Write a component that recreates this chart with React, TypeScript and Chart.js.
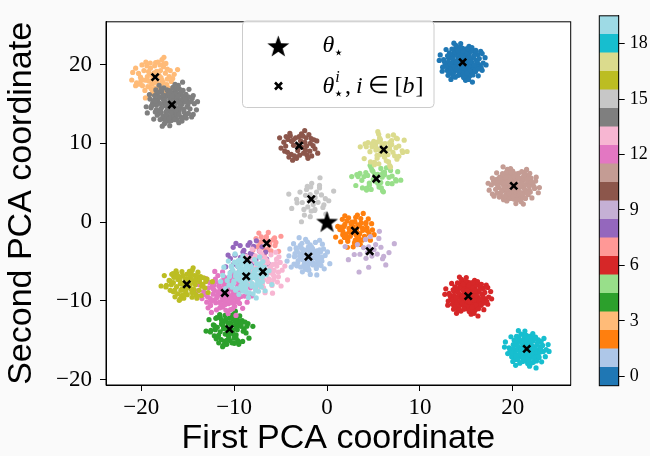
import React, { useEffect, useRef } from 'react';
import { Chart, registerables } from 'chart.js';
Chart.register(...registerables);

// tab20 colours, one per cluster index 0..19
const clusterColors = [
  '#1f77b4', '#aec7e8', '#ff7f0e', '#ffbb78', '#2ca02c', '#98df8a', '#d62728', '#ff9896',
  '#9467bd', '#c5b0d5', '#8c564b', '#c49c94', '#e377c2', '#f7b6d2', '#7f7f7f', '#c7c7c7',
  '#bcbd22', '#dbdb8d', '#17becf', '#9edae5',
];
// cluster centres (theta_star^i)
const centerX = [14.6, -2.0, 3.0, -18.5, -10.5, 5.3, 15.2, -6.5, -8.6, 4.6, -3.0, 20.1, -11.0, -6.9, -16.7, -1.7, -15.1, 6.1, 21.5, -8.7];
const centerY = [20.3, -4.4, -1.1, 18.4, -13.6, 5.5, -9.4, -2.7, -4.8, -3.7, 9.7, 4.6, -9.0, -6.3, 14.9, 2.9, -7.9, 9.2, -16.1, -6.9];
// estimated spread and number of points of each cluster
const spreadX = [1.05, 1.0, 0.9, 1.05, 1.05, 1.1, 1.05, 0.95, 1.0, 1.15, 1.0, 1.15, 1.2, 1.15, 1.15, 1.05, 1.15, 1.05, 1.0, 1.2];
const spreadY = [1.15, 1.1, 1.0, 1.2, 1.2, 0.9, 1.15, 1.0, 1.1, 1.2, 1.0, 1.1, 1.3, 1.3, 1.3, 1.3, 1.1, 1.2, 1.1, 1.3];
const counts = [140, 80, 60, 70, 80, 45, 140, 25, 45, 25, 45, 140, 100, 80, 140, 35, 80, 60, 120, 100];
// hand-typed blob offsets (in spread units)
const offsetsA = [
  [0.12, -0.35], [-0.58, 0.21], [0.84, 0.47], [-1.12, -0.66], [0.33, 1.05], [-0.27, -1.18], [1.41, -0.22], [-1.55, 0.38], [0.05, 0.02], [0.67, -0.91],
  [-0.81, 0.95], [1.02, 0.88], [-0.44, -0.52], [0.29, -0.08], [-0.15, 0.63], [1.78, 0.31], [-1.9, -0.12], [0.51, 1.62], [-0.62, -1.7], [0.95, -1.35],
  [-1.28, 1.22], [0.18, 0.41], [-0.36, 0.07], [0.72, 0.14], [-0.95, -0.28], [0.41, -0.55], [-0.08, -0.79], [1.2, 0.6], [-1.36, -1.02], [0.6, 0.82],
  [-0.7, 0.45], [0.26, -1.45], [-0.19, 1.38], [1.55, -0.85], [-1.62, 0.9], [0.88, 1.3], [-0.5, -0.95], [0.02, 0.85], [1.1, -0.45], [-1.05, 0.12],
  [0.45, 0.28], [-0.3, -0.3], [0.78, -0.2], [-0.9, 0.68], [0.15, -1.02], [-0.12, 0.3], [1.32, 1.02], [-1.45, -0.5], [0.65, -1.75], [-0.75, 1.65],
  [2.1, 0.1], [-2.05, 0.55], [0.3, 2.0], [-0.2, -2.05], [1.6, 1.5], [-1.7, -1.4], [1.85, -1.2], [-1.2, 1.9], [0.55, 0.6], [-0.45, 0.9],
  [0.95, 0.05], [-0.65, -0.1], [0.2, -0.6], [-1.0, -0.75], [1.25, -1.05], [-0.35, 1.1], [0.7, 1.55], [-1.3, 0.55], [0.4, -1.25], [-0.85, -1.35],
  [1.45, 0.35], [-1.8, 0.15], [0.1, 1.7], [-0.05, -1.55], [2.3, -0.5], [-2.3, -0.8], [1.0, 2.2], [-0.9, -2.1], [2.0, 0.9], [-1.5, 1.45],
];
const offsetsB = [
  [0.22, 0.15], [-0.4, -0.18], [0.58, -0.38], [-0.7, 0.3], [0.1, -0.45], [-0.2, 0.52], [0.92, 0.32], [-1.05, -0.42], [0.35, 0.75], [-0.55, -0.7],
  [1.15, -0.7], [-1.2, 0.8], [0.75, 1.0], [-0.85, -1.1], [0.0, 1.15], [0.05, -1.2], [1.5, 0.0], [-1.45, -0.05], [0.48, -0.95], [-0.38, 1.0],
  [1.3, 0.9], [-1.25, -0.85], [0.85, -1.2], [-0.95, 1.25], [1.7, -0.4], [-1.65, 0.45], [0.25, 1.5], [-0.28, -1.6], [1.05, 1.4], [-1.1, -1.45],
  [0.62, 0.42], [-0.6, 0.05], [0.3, -0.2], [-0.05, -0.1], [0.8, -0.05], [-0.82, 0.55], [0.42, 1.22], [-0.5, -1.3], [1.35, -1.3], [-1.4, 1.15],
  [1.9, 0.6], [-1.95, -0.3], [0.6, 1.9], [-0.7, -1.85], [2.0, -0.95], [-2.1, 1.0], [0.15, 0.62], [-0.15, -0.62], [0.68, -0.6], [-0.62, 0.75],
  [1.6, 0.75], [-1.55, -0.7], [0.95, -1.6], [-1.0, 1.55], [1.2, 0.3], [-1.25, 0.2], [0.5, -1.5], [-0.45, 1.45], [2.4, 0.3], [-2.4, -0.2],
];
// theta_star
const starX = [0];
const starY = [0];
// tick labels
const xTicks = [-20, -10, 0, 10, 20];
const yTicks = [-20, -10, 0, 10, 20];
const cbTicks = [0, 3, 6, 9, 12, 15, 18];
const xLabel = 'First PCA coordinate';
const yLabel = 'Second PCA coordinate';

const allOffsets = [...offsetsA, ...offsetsB];

function clusterPoints(i: number) {
  const pts: { x: number; y: number }[] = [];
  const n = counts[i];
  const start = (i * 23) % allOffsets.length;
  const fx = i % 2 === 0 ? 1 : -1;
  const fy = i % 3 === 0 ? -1 : 1;
  for (let k = 0; k < n; k++) {
    const o = allOffsets[(start + k) % allOffsets.length];
    pts.push({ x: centerX[i] + fx * o[0] * spreadX[i], y: centerY[i] + fy * o[1] * spreadY[i] });
  }
  return pts;
}

function makeStar(R: number) {
  const size = Math.ceil(R * 2 + 2);
  const c = document.createElement('canvas');
  c.width = size;
  c.height = size;
  const ctx = c.getContext('2d')!;
  const cx = size / 2, cy = size / 2 + R * 0.05;
  const r = R * 0.4;
  ctx.beginPath();
  for (let k = 0; k < 10; k++) {
    const a = -Math.PI / 2 + (k * Math.PI) / 5;
    const rad = k % 2 === 0 ? R : r;
    ctx.lineTo(cx + rad * Math.cos(a), cy + rad * Math.sin(a));
  }
  ctx.closePath();
  ctx.fillStyle = '#000';
  ctx.fill();
  return c;
}

const minusFmt = (v: any) => String(v).replace('-', '\u2212');

export default function App() {
  const mainRef = useRef<HTMLCanvasElement>(null);
  const cbRef = useRef<HTMLCanvasElement>(null);

  useEffect(() => {
    const starImg = makeStar(11.5);
    const serif = 'Liberation Serif';
    const sans = 'Liberation Sans';

    const datasets: any[] = [];
    for (let i = 0; i < clusterColors.length; i++) {
      datasets.push({
        label: 'c' + i,
        data: clusterPoints(i),
        pointRadius: 2.6,
        pointBorderWidth: 0,
        pointBackgroundColor: clusterColors[i],
        pointBorderColor: clusterColors[i],
        showLine: false,
        order: 100 - i,
      });
    }
    datasets.push({
      label: 'star',
      data: starX.map((x, k) => ({ x, y: starY[k] })),
      pointStyle: starImg,
      pointRadius: 10,
      order: -1,
    });
    datasets.push({
      label: 'centers',
      data: centerX.map((x, k) => ({ x, y: centerY[k] })),
      pointStyle: 'crossRot',
      pointRadius: 5,
      pointBorderWidth: 2.6,
      pointBorderColor: '#000',
      pointBackgroundColor: '#000',
      order: -2,
    });

    const framePlugin = {
      id: 'frame',
      beforeDraw(chart: any) {
        const { ctx, chartArea: a } = chart;
        ctx.save();
        ctx.fillStyle = '#ffffff';
        ctx.fillRect(a.left, a.top, a.right - a.left, a.bottom - a.top);
        ctx.restore();
      },
      afterDatasetsDraw(chart: any) {
        const { ctx, chartArea: a } = chart;
        ctx.save();
        ctx.strokeStyle = '#000';
        ctx.lineWidth = 1;
        ctx.strokeRect(a.left, a.top, a.right - a.left, a.bottom - a.top);
        ctx.restore();
      },
    };

    const legendPlugin = {
      id: 'mathLegend',
      afterDraw(chart: any) {
        const ctx = chart.ctx as CanvasRenderingContext2D;
        ctx.save();
        const bx = 242.5, by = 21, bw = 191.5, bh = 86.5;
        ctx.beginPath();
        (ctx as any).roundRect(bx, by, bw, bh, 4);
        ctx.fillStyle = 'rgba(255,255,255,0.8)';
        ctx.fill();
        ctx.strokeStyle = '#cccccc';
        ctx.lineWidth = 1;
        ctx.stroke();
        // star marker
        ctx.drawImage(starImg, 278.3 - starImg.width / 2, 46.5 - starImg.height / 2);
        // cross marker
        const cx = 278.5, cy = 86;
        ctx.strokeStyle = '#000';
        ctx.lineWidth = 2.6;
        ctx.beginPath();
        ctx.moveTo(cx - 3.5, cy - 3.5); ctx.lineTo(cx + 3.5, cy + 3.5);
        ctx.moveTo(cx + 3.5, cy - 3.5); ctx.lineTo(cx - 3.5, cy + 3.5);
        ctx.stroke();
        // texts
        ctx.fillStyle = '#000';
        ctx.textBaseline = 'alphabetic';
        ctx.textAlign = 'left';
        const big = `italic 24px "${serif}"`;
        const up = `24px "${serif}"`;
        const small = `italic 16px "${serif}"`;
        const starF = `17px "DejaVu Sans"`;
        // row 1
        let x = 322.5;
        let base = 52;
        ctx.font = big;
        ctx.fillText('\u03b8', x, base);
        x += ctx.measureText('\u03b8').width;
        ctx.font = starF;
        ctx.fillText('\u22c6', x - 1, base + 6);
        // row 2
        x = 322.5;
        base = 93;
        ctx.font = big;
        ctx.fillText('\u03b8', x, base);
        x += ctx.measureText('\u03b8').width;
        ctx.font = small;
        ctx.fillText('i', x + 1, base - 11);
        ctx.font = starF;
        ctx.fillText('\u22c6', x - 1, base + 6);
        x += ctx.measureText('\u22c6').width;
        ctx.font = up;
        ctx.fillText(',', x, base);
        x += ctx.measureText(',').width + 5;
        ctx.font = big;
        ctx.fillText('i', x, base);
        x += ctx.measureText('i').width + 5;
        ctx.font = up;
        ctx.fillText('\u2208', x, base);
        x += ctx.measureText('\u2208').width + 6;
        ctx.fillText('[', x, base);
        x += ctx.measureText('[').width;
        ctx.font = big;
        ctx.fillText('b', x, base);
        x += ctx.measureText('b').width + 1;
        ctx.font = up;
        ctx.fillText(']', x, base);
        ctx.restore();
      },
    };

    const main = new Chart(mainRef.current!, {
      type: 'scatter',
      data: { datasets },
      options: {
        animation: false,
        responsive: false,
        devicePixelRatio: 1,
        events: [],
        layout: { padding: { left: 0, top: 8.3, right: 79.3, bottom: 0 } },
        plugins: { legend: { display: false }, tooltip: { enabled: false } },
        scales: {
          x: {
            type: 'linear',
            min: -23.79,
            max: 26.23,
            afterBuildTicks: (s: any) => { s.ticks = xTicks.map((v) => ({ value: v })); },
            afterFit: (s: any) => { s.height = 71; },
            grid: { drawOnChartArea: false, drawTicks: true, tickLength: 6, tickColor: '#000', lineWidth: 1 },
            border: { display: true, color: '#000' },
            ticks: { color: '#000', font: { family: serif, size: 23 }, padding: 3, callback: minusFmt, maxRotation: 0, autoSkip: false },
            title: { display: true, text: xLabel, color: '#000', font: { family: sans, size: 34, lineHeight: 1 }, padding: { top: 0, bottom: 0 } },
          },
          y: {
            type: 'linear',
            min: -20.69,
            max: 25.43,
            afterBuildTicks: (s: any) => { s.ticks = yTicks.map((v) => ({ value: v })); },
            afterFit: (s: any) => { s.width = 106; },
            grid: { drawOnChartArea: false, drawTicks: true, tickLength: 6, tickColor: '#000', lineWidth: 1 },
            border: { display: true, color: '#000' },
            ticks: { color: '#000', font: { family: serif, size: 23 }, padding: 8, callback: minusFmt, autoSkip: false },
            title: { display: true, text: yLabel, color: '#000', font: { family: sans, size: 34, lineHeight: 1 }, padding: { top: 4.5, bottom: 0 } },
          },
        },
      },
      plugins: [framePlugin, legendPlugin],
    });

    const cbFrame = {
      id: 'cbFrame',
      afterDatasetsDraw(chart: any) {
        const { ctx, chartArea: a } = chart;
        ctx.save();
        ctx.strokeStyle = '#000';
        ctx.lineWidth = 1;
        ctx.strokeRect(a.left, a.top, a.right - a.left, a.bottom - a.top);
        ctx.restore();
      },
    };

    const cb = new Chart(cbRef.current!, {
      type: 'bar',
      data: {
        labels: ['cb'],
        datasets: clusterColors.map((c, i) => ({
          label: String(i),
          data: [[i - 0.5, i + 0.5]] as any,
          backgroundColor: c,
          borderWidth: 0,
          grouped: false,
          barPercentage: 1,
          categoryPercentage: 1,
        })),
      },
      options: {
        animation: false,
        responsive: false,
        devicePixelRatio: 1,
        events: [],
        layout: { padding: { left: 9.3, top: 8.3, right: 0, bottom: 70.3 } },
        plugins: { legend: { display: false }, tooltip: { enabled: false } },
        scales: {
          x: { display: false },
          y: {
            position: 'right',
            min: -0.5,
            max: 19.5,
            afterBuildTicks: (s: any) => { s.ticks = cbTicks.map((v) => ({ value: v })); },
            afterFit: (s: any) => { s.width = 31.3; },
            grid: { drawOnChartArea: false, drawTicks: true, tickLength: 6, tickColor: '#000', lineWidth: 1 },
            border: { display: true, color: '#000' },
            ticks: { color: '#000', font: { family: serif, size: 18 }, padding: 5, autoSkip: false },
          },
        },
      },
      plugins: [cbFrame],
    });

    return () => {
      main.destroy();
      cb.destroy();
    };
  }, []);

  return (
    <div style={{ position: 'fixed', left: 0, top: 0, width: 650, height: 456, background: '#fafafa', overflow: 'hidden' }}>
      <canvas ref={mainRef} width={650} height={456} style={{ position: 'absolute', left: 0, top: 0, display: 'block' }} />
      <canvas ref={cbRef} width={60} height={456} style={{ position: 'absolute', left: 590, top: 0, display: 'block' }} />
    </div>
  );
}
